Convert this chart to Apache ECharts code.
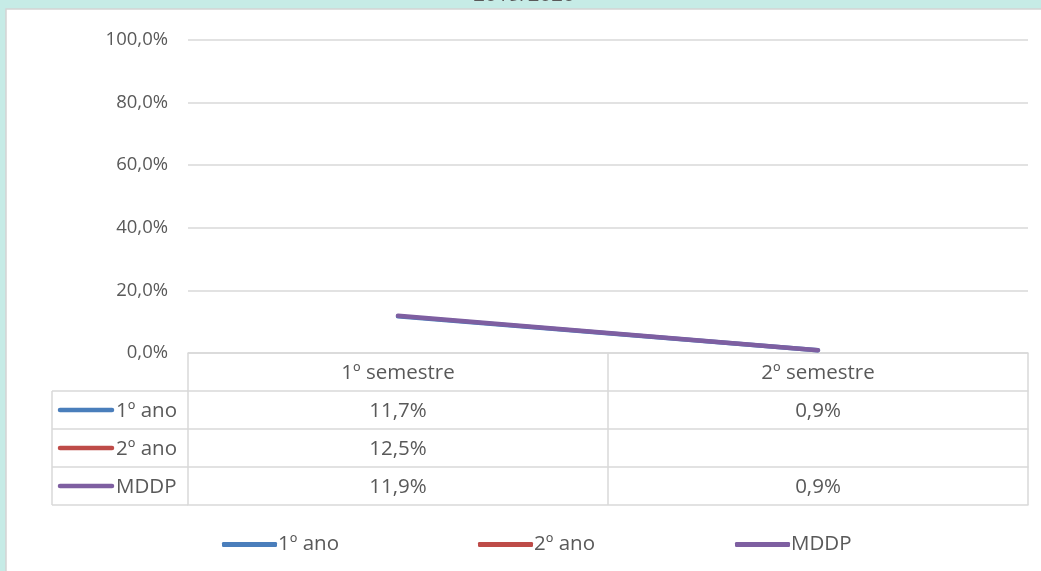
<!DOCTYPE html>
<html>
<head>
<meta charset="utf-8">
<script src="https://cdn.jsdelivr.net/npm/echarts@6/dist/echarts.min.js"></script>
<style>
html,body{margin:0;padding:0;background:#c6ebe6;}
#c{position:absolute;left:0;top:0;width:1041px;height:571px;}
</style>
</head>
<body>
<div id="c"></div>
<script>
// ---- data ----
const title = '2019/2020';
const categories = ['1º semestre', '2º semestre'];
const seriesNames = ['1º ano', '2º ano', 'MDDP'];
const ano1 = [11.7, 0.9];
const ano2 = [12.5, null];
const mddp = [11.9, 0.9];
const yTicks = [0, 20, 40, 60, 80, 100];

// ---- style ----
const colors = ['#4a7ebb', '#be4b48', '#7e5fa1'];
const font = '"Open Sans"';
const fs = 20.5;
const fsY = 18.5;
const txt = '#595959';
const border = '#d9d9d9';
const gridL = 188, gridR = 13, gridT = 40, gridB = 218;
const rowH = 38;
const W = 1041, H = 571;
const axisBottomY = H - gridB;

const rows = [ano1, ano2, mddp];
const fmt = v => (v === null || v === undefined) ? '' : v.toFixed(1).replace('.', ',') + '%';

const lineStyle = {color: border, width: 1.5};

const xAxes = [{
  type: 'category', data: categories, gridIndex: 0, position: 'bottom', boundaryGap: true,
  axisLine: {show: true, lineStyle: lineStyle},
  axisTick: {show: true, interval: 0, length: rowH, lineStyle: lineStyle},
  axisLabel: {interval: 0, margin: 10, fontSize: fs, color: txt, fontFamily: font}
}];
rows.forEach((r, k) => {
  xAxes.push({
    type: 'category', data: categories, gridIndex: 0, position: 'bottom', boundaryGap: true,
    offset: rowH * (k + 1),
    axisLine: {show: true, lineStyle: lineStyle},
    axisTick: {show: true, interval: 0, length: rowH, lineStyle: lineStyle},
    axisLabel: {interval: 0, margin: 10, fontSize: fs, color: txt, fontFamily: font,
      formatter: (v, i) => fmt(r[i])}
  });
});
xAxes.push({
  type: 'category', data: categories, gridIndex: 0, position: 'bottom', boundaryGap: true,
  offset: rowH * 4,
  axisLine: {show: true, lineStyle: lineStyle},
  axisTick: {show: false}, axisLabel: {show: false}
});

// left legend column of data table
const colL = 52;
const tableGraphics = [];
for (let k = 0; k <= 3; k++) {
  const y = axisBottomY + rowH * (k + 1);
  tableGraphics.push({type: 'line', shape: {x1: colL, y1: y, x2: gridL, y2: y}, style: {stroke: border, lineWidth: 1.5}});
}
tableGraphics.push({type: 'line', shape: {x1: colL, y1: axisBottomY + rowH, x2: colL, y2: axisBottomY + rowH * 4}, style: {stroke: border, lineWidth: 1.5}});
seriesNames.forEach((n, k) => {
  const cy = axisBottomY + rowH * (k + 1) + rowH / 2;
  tableGraphics.push({type: 'line', shape: {x1: 60, y1: cy, x2: 112, y2: cy}, style: {stroke: colors[k], lineWidth: 4.5, lineCap: 'round'}});
  tableGraphics.push({type: 'text', x: 116, y: cy + 1.5, style: {text: n, fill: txt, font: fs + 'px ' + font, verticalAlign: 'middle', align: 'left'}});
});

const legendLefts = [222, 478, 735];
const legends = seriesNames.map((n, k) => ({
  data: [n], left: legendLefts[k], top: 534, padding: 0, icon: 'roundRect', itemWidth: 55, itemHeight: 5,
  itemGap: 0, textStyle: {fontSize: fs, color: txt, fontFamily: font, padding: [3, 0, 0, -4]}
}));

const chart = echarts.init(document.getElementById('c'), null, {renderer: 'canvas'});
chart.setOption({
  backgroundColor: '#c6ebe6',
  animation: false,
  color: colors,
  graphic: [
    {type: 'rect', z: -10, shape: {x: 6, y: 9, width: W, height: H}, style: {fill: '#fff', stroke: '#d4d4d4', lineWidth: 1.5}},
    {type: 'text', z: 10, x: 524, y: 6, style: {text: title, fill: txt, font: fs + 'px ' + font, align: 'center', verticalAlign: 'bottom'}},
    ...tableGraphics
  ],
  legend: legends,
  grid: {left: gridL, right: gridR, top: gridT, bottom: gridB, containLabel: false},
  xAxis: xAxes,
  yAxis: {
    type: 'value', min: yTicks[0], max: yTicks[yTicks.length - 1], interval: yTicks[1] - yTicks[0],
    axisLine: {show: false}, axisTick: {show: false},
    splitLine: {lineStyle: {color: border, width: 1.5}},
    axisLabel: {margin: 20, fontSize: fsY, color: txt, fontFamily: font, padding: [5, 0, 0, 0], formatter: v => fmt(v)}
  },
  series: seriesNames.map((n, k) => ({
    name: n, type: 'line', xAxisIndex: 0, data: rows[k], showSymbol: false, symbol: 'none',
    connectNulls: false,
    lineStyle: {width: 4.5, color: colors[k], cap: 'round'},
    itemStyle: {color: colors[k]}
  }))
});
</script>
</body>
</html>
